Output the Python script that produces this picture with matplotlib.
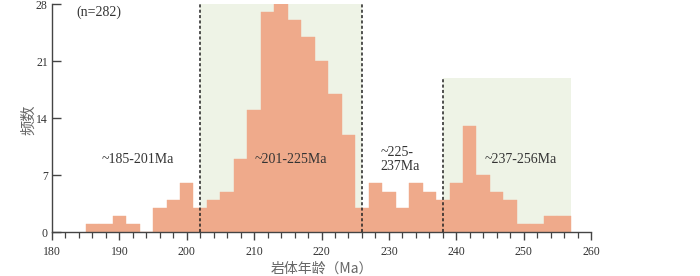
import numpy as np
import matplotlib
matplotlib.use("Agg")
from matplotlib import pyplot as plt
from matplotlib.ticker import MultipleLocator

# histogram of intrusion ages, 2 Ma bins starting at 185 Ma
bin_left = list(range(185, 257, 2))
counts = [1, 1, 2, 1, 0, 3, 4, 6,
          3, 4, 5, 9, 15, 27, 28, 26, 24, 21, 17, 12,
          3, 6, 5, 3, 6, 5,
          4, 6, 13, 7, 5, 4, 1, 1, 2, 2]

# shaded age groups: (start, end, top)
groups = [(202, 226, 28), (238, 257, 19)]
dividers = [(202, 28), (226, 28), (238, 19)]
labels = ["~185-201Ma", "~201-225Ma", "~225-\n237Ma", "~237-256Ma"]
label_x = [192.7, 215.5, 228.8, 249.5]
label_ha = ["center", "center", "left", "center"]

serif = ["Liberation Serif", "DejaVu Serif"]
cjk = ["Noto Sans CJK SC", "DejaVu Sans"]
axis_col = "#444444"

fig = plt.figure(figsize=(7.0, 2.76), dpi=100)
ax = fig.add_axes([0.0743, 0.158, 0.77, 0.827])

for x0, x1, top in groups:
    ax.fill_between([x0, x1], 0, top, color="#eef3e6", lw=0, zorder=0)

ax.bar(bin_left, counts, width=2, align="edge", color="#efaa8b",
       edgecolor="#efaa8b", lw=0.3, zorder=1)

for x, top in dividers:
    ax.plot([x, x], [0, top], ls=(0, (2, 1.5)), color="#222222", lw=1.1, zorder=3)

for txt, x, ha in zip(labels, label_x, label_ha):
    ax.text(x, 9.0, txt, ha=ha, va="center", fontsize=10, color="#333333",
            family=serif, linespacing=1.1, zorder=4)
ax.text(183.6, 27.0, "(n=282)", ha="left", va="center", fontsize=10,
        color="#333333", family=serif)

ax.set_xlim(180, 260)
ax.set_ylim(0, 28)
ax.set_xticks(np.arange(180, 261, 10))
ax.xaxis.set_minor_locator(MultipleLocator(2))
ax.set_yticks([0, 7, 14, 21, 28])

for side in ["top", "right"]:
    ax.spines[side].set_visible(False)
for side in ["left", "bottom"]:
    ax.spines[side].set_color(axis_col)
    ax.spines[side].set_linewidth(1.0)

ax.tick_params(axis="x", which="major", direction="out", length=6,
               width=1.0, color=axis_col, labelsize=8.5, labelcolor="#333333")
ax.tick_params(axis="x", which="minor", direction="out", length=4.5,
               width=0.9, color=axis_col)
ax.tick_params(axis="y", which="major", direction="in", length=6.5, pad=3,
               width=1.0, color=axis_col, labelsize=8.5, labelcolor="#333333")
for lab in ax.get_xticklabels() + ax.get_yticklabels():
    lab.set_family(serif)

ax.set_xlabel("岩体年龄（Ma）", fontsize=10, color="#666666", family=cjk, labelpad=3)
fig.text(29 / 700, 1 - 120 / 276, "频数", rotation=90, ha="center", va="center",
         fontsize=11, color="#666666", family=cjk)

fig.savefig("out.png", dpi=100)
